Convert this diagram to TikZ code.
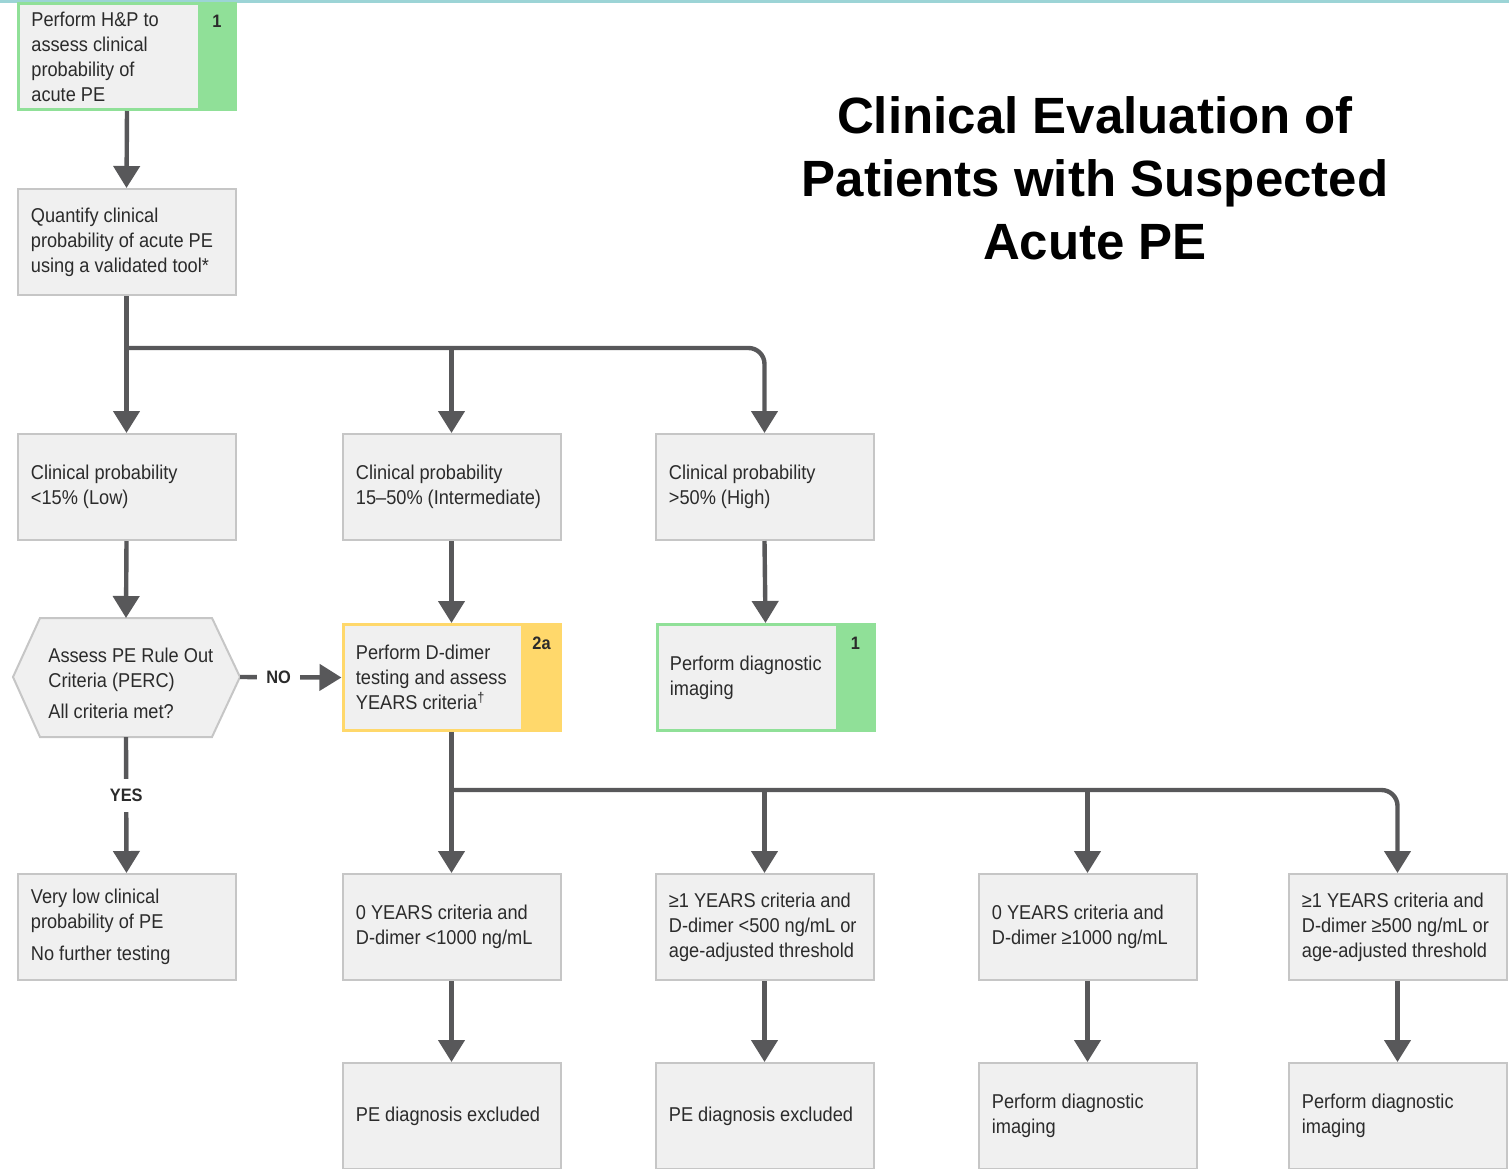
\documentclass[tikz,border=0pt]{standalone}
\usepackage{fontspec}
\setmainfont{Liberation Sans}[FakeStretch=0.91]
\newfontfamily\titlefont{Liberation Sans}
\usetikzlibrary{arrows.meta}

\definecolor{boxfill}{HTML}{F0F0F0}
\definecolor{boxline}{HTML}{C6C6C6}
\definecolor{conn}{HTML}{58585A}
\definecolor{txt}{HTML}{2B2B2B}
\definecolor{levgreen}{HTML}{90E098}
\definecolor{levyellow}{HTML}{FFD86B}
\definecolor{topline}{HTML}{9CD4D6}

\tikzset{
  stepbox/.style={draw=boxline, line width=1pt, fill=boxfill, anchor=west,
    inner sep=0pt, minimum height=53pt, minimum width=109pt},
  greenbox/.style={stepbox, draw=levgreen, line width=1.5pt, minimum width=108.5pt,
    path picture={\fill[levgreen] ([xshift=-19pt]path picture bounding box.north east)
      rectangle (path picture bounding box.south east);}},
  yellowbox/.style={stepbox, draw=levyellow, line width=1.5pt, minimum width=108.5pt,
    path picture={\fill[levyellow] ([xshift=-19.5pt]path picture bounding box.north east)
      rectangle (path picture bounding box.south east);}},
  boxtext/.style={anchor=west, align=left, inner sep=0pt,
    font=\fontsize{10}{12.5}\selectfont, text=txt},
  levlabel/.style={font=\fontsize{9}{10}\selectfont\bfseries, text=txt, inner sep=0pt},
  hexbox/.style={draw=boxline, line width=1pt, fill=boxfill},
  conline/.style={draw=conn, line width=2.2pt},
  arr/.style={conline, -{Triangle[width=13pt,length=11pt]}},
  answer/.style={fill=white, font=\fontsize{9}{10}\selectfont\bfseries, text=txt},
  titletext/.style={align=center, font=\titlefont\fontsize{25.5}{31.5}\selectfont\bfseries, text=black}
}

% a box with its left-aligned text: [style]{name}{left x}{centre y}{text}
\newcommand\flowbox[5][stepbox]{%
  \node[#1] (#2) at (#3,#4) {};
  \node[boxtext] (#2-text) at ([xshift=7pt]#2.west) {#5};%
}

\begin{document}
\begin{tikzpicture}[x=0.5pt,y=-0.5pt]
\useasboundingbox (0,0) rectangle (1509,1168);
\fill[topline] (0,0) rectangle (1509,2.5);

% title
\node[titletext] (title) at (1095,178) {Clinical Evaluation of\\Patients with Suspected\\Acute PE};

% first two steps
\flowbox[greenbox]{hp}{17}{56.5}{Perform H\&P to\\assess clinical\\probability of\\acute PE}
\node[levlabel] (hplev) at ([xshift=-10pt,yshift=-9.5pt]hp.north east) {1};
\flowbox{quant}{16.5}{242}{Quantify clinical\\probability of acute PE\\using a validated tool*}

% clinical probability levels
\flowbox{low}{16.5}{487}{Clinical probability\\<15\% (Low)}
\flowbox{mid}{341.5}{487}{Clinical probability\\15–50\% (Intermediate)}
\flowbox{high}{654.5}{487}{Clinical probability\\>50\% (High)}

% PERC decision
\draw[hexbox] (13,677) -- (40,618) -- (212,618) -- (240,677) -- (212,737) -- (40,737) -- cycle;
\coordinate (percN) at (126,618);
\coordinate (percE) at (240,677);
\coordinate (percS) at (126,737);
\node[boxtext] (perc) at (48,683) {Assess PE Rule Out\\Criteria (PERC)\\[3pt]All criteria met?};

\flowbox[yellowbox]{ddimer}{341.5}{677.5}{Perform D-dimer\\testing and assess\\YEARS criteria\textsuperscript{†}}
\node[levlabel] (ddlev) at ([xshift=-10pt,yshift=-10pt]ddimer.north east) {2a};
\flowbox[greenbox]{image}{655.5}{677.5}{Perform diagnostic\\imaging}
\node[levlabel] (imlev) at ([xshift=-10pt,yshift=-10pt]image.north east) {1};

% outcomes
\flowbox{verylow}{16.5}{927}{Very low clinical\\probability of PE\\[3.5pt]No further testing}
\flowbox{ya}{341.5}{927}{0 YEARS criteria and\\D-dimer <1000 ng/mL}
\flowbox{yb}{654.5}{927}{≥1 YEARS criteria and\\D-dimer <500 ng/mL or\\age-adjusted threshold}
\flowbox{yc}{977.5}{927}{0 YEARS criteria and\\D-dimer ≥1000 ng/mL}
\flowbox{yd}{1287.5}{927}{≥1 YEARS criteria and\\D-dimer ≥500 ng/mL or\\age-adjusted threshold}

\flowbox{exa}{341.5}{1116}{PE diagnosis excluded}
\flowbox{exb}{654.5}{1116}{PE diagnosis excluded}
\flowbox{imc}{977.5}{1116}{Perform diagnostic\\imaging}
\flowbox{imd}{1287.5}{1116}{Perform diagnostic\\imaging}

% connectors
\draw[arr] (hp.south) -- (quant.north);
\coordinate (split1) at (125.5,348);
\draw[arr] (quant.south) -- (low.north);
\draw[arr] (split1 -| mid.north) -- (mid.north);
\draw[arr, rounded corners=8pt] (split1) -| (high.north);

\draw[arr] (low.south) -- (percN);
\draw[arr] (mid.south) -- (ddimer.north);
\draw[arr] (high.south) -- (image.north);

\draw[arr] (percE) -- node[answer, pos=0.38, inner xsep=4.5pt] (no) {NO} (ddimer.west);
\draw[arr] (percS) -- node[answer, pos=0.43, inner ysep=5pt] (yes) {YES} (verylow.north);

\coordinate (split2) at (450.5,790);
\draw[arr] (ddimer.south) -- (ya.north);
\draw[arr] (split2 -| yb.north) -- (yb.north);
\draw[arr] (split2 -| yc.north) -- (yc.north);
\draw[arr, rounded corners=8pt] (split2) -| (yd.north);

\draw[arr] (ya.south) -- (exa.north);
\draw[arr] (yb.south) -- (exb.north);
\draw[arr] (yc.south) -- (imc.north);
\draw[arr] (yd.south) -- (imd.north);
\end{tikzpicture}
\end{document}
